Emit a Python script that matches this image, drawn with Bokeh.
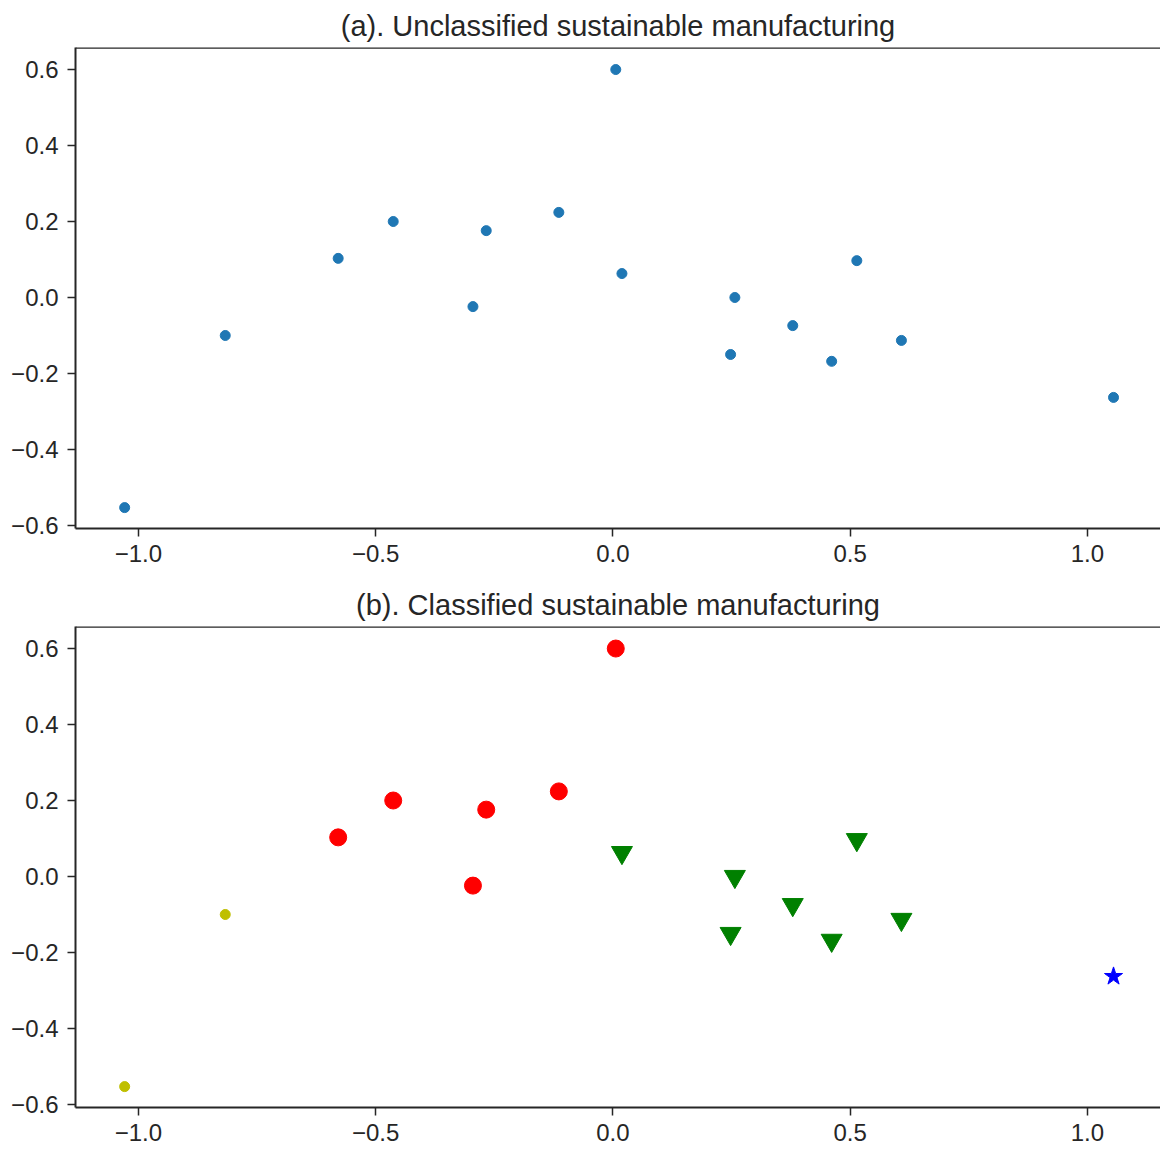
from bokeh.plotting import figure
from bokeh.layouts import column
from bokeh.models import Range1d, FixedTicker, Span
from bokeh.embed import file_html
from bokeh.resources import INLINE

# ---- data ----
xs = [-1.029, -0.817, -0.579, -0.463, -0.267, -0.295, -0.114, 0.006,
      0.019, 0.257, 0.248, 0.379, 0.514, 0.461, 0.608, 1.055]
ys = [-0.553, -0.100, 0.103, 0.200, 0.176, -0.024, 0.224, 0.600,
      0.063, 0.000, -0.150, -0.074, 0.097, -0.168, -0.113, -0.263]
classes = [0, 0, 1, 1, 1, 1, 1, 1, 2, 2, 2, 2, 2, 2, 2, 3]

x_ticks = [-1.0, -0.5, 0.0, 0.5, 1.0]
y_ticks = [-0.6, -0.4, -0.2, 0.0, 0.2, 0.4, 0.6]

title_a = "(a). Unclassified sustainable manufacturing"
title_b = "(b). Classified sustainable manufacturing"

class_styles = {
    0: dict(marker="circle", color="#bfbf00", size=10),
    1: dict(marker="circle", color="#ff0000", size=17),
    2: dict(marker="inverted_triangle", color="#008000", size=21),
    3: dict(marker="star", color="#0000ff", size=19),
}

FONT = "Liberation Sans"
INK = "#262626"


def fmt(v):
    s = f"{v:.1f}"
    return s.replace("-", "\u2212")


def make_fig(title, height, border_bottom):
    p = figure(width=1160, height=height,
               x_range=Range1d(-1.1326, 1.154), y_range=Range1d(-0.608, 0.658),
               output_backend="svg", toolbar_location=None,
               min_border_left=75, min_border_right=0,
               min_border_top=47, min_border_bottom=border_bottom)
    p.title.text = title
    p.title.align = "center"
    p.title.text_font = FONT
    p.title.text_font_size = "29px"
    p.title.text_font_style = "normal"
    p.title.text_color = INK
    p.title.standoff = 12
    p.outline_line_color = None
    p.xgrid.visible = False
    p.ygrid.visible = False
    p.background_fill_color = "white"

    p.xaxis.ticker = FixedTicker(ticks=x_ticks)
    p.yaxis.ticker = FixedTicker(ticks=y_ticks)
    p.xaxis.major_label_overrides = {t: fmt(t) for t in x_ticks}
    p.yaxis.major_label_overrides = {t: fmt(t) for t in y_ticks}
    for ax in (p.xaxis, p.yaxis):
        ax.major_label_text_font = FONT
        ax.major_label_text_font_size = "24px"
        ax.major_label_text_color = INK
        ax.axis_line_color = INK
        ax.axis_line_width = 2
        ax.major_tick_line_color = INK
        ax.major_tick_line_width = 1.5
        ax.major_tick_in = 0
        ax.major_tick_out = 8
        ax.minor_tick_line_color = None
    p.xaxis.major_label_standoff = 8
    p.yaxis.major_label_standoff = 9

    top = Span(location=0.658, dimension="width", line_color=INK, line_width=2.5)
    p.add_layout(top)
    return p


pa = make_fig(title_a, 579, 51)
pa.scatter(xs, ys, marker="circle", size=10, fill_color="#1f77b4",
           line_color="#1f77b4")

pb = make_fig(title_b, 570, 42)
for c, st in class_styles.items():
    cx = [x for x, k in zip(xs, classes) if k == c]
    cy = [y for y, k in zip(ys, classes) if k == c]
    pb.scatter(cx, cy, marker=st["marker"], size=st["size"],
               fill_color=st["color"], line_color=st["color"])

layout = column(pa, pb, spacing=0)
open("out.html", "w").write(file_html(layout, INLINE))
